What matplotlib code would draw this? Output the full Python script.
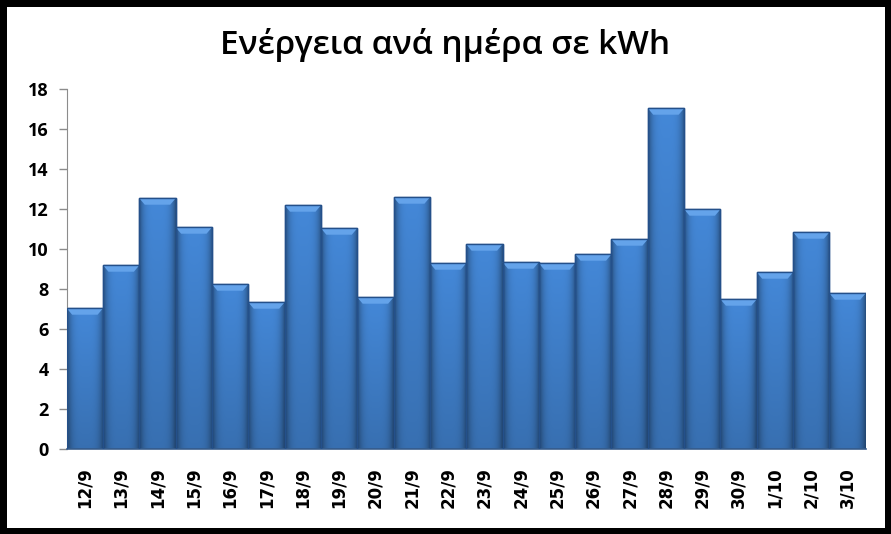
import matplotlib
matplotlib.use("Agg")
import matplotlib.pyplot as plt
import numpy as np
from matplotlib.patches import Rectangle, Polygon

days = ["12/9", "13/9", "14/9", "15/9", "16/9", "17/9", "18/9", "19/9", "20/9",
        "21/9", "22/9", "23/9", "24/9", "25/9", "26/9", "27/9", "28/9", "29/9",
        "30/9", "1/10", "2/10", "3/10"]
energy = [7.05, 9.2, 12.55, 11.1, 8.25, 7.35, 12.2, 11.05, 7.6,
          12.6, 9.3, 10.25, 9.35, 9.3, 9.75, 10.5, 17.05, 12.0,
          7.5, 8.85, 10.85, 7.8]
yticks = [0, 2, 4, 6, 8, 10, 12, 14, 16, 18]
title = "Ενέργεια ανά ημέρα σε kWh"

W, H = 891, 534
fig = plt.figure(figsize=(W / 100, H / 100), dpi=100)
fig.patch.set_facecolor("black")
fig.patches.append(Rectangle((7 / W, 1 - 528 / H), (885 - 7) / W, (528 - 7) / H,
                             transform=fig.transFigure, facecolor="white",
                             edgecolor="none", zorder=-5))

ax = fig.add_axes([66.7 / W, 1 - 449.3 / H, (865.7 - 66.7) / W, (449.3 - 89.3) / H])
ax.set_zorder(2)
ax.set_facecolor("none")
x = np.arange(len(days))
bars = ax.bar(x, energy, width=1.0, color="#3a78c4", edgecolor="#24508a",
              linewidth=1.0, zorder=2)

# gradient fill (bevel look)
nx, ny = 40, 60
gx = np.linspace(-1, 1, nx)
hor = 1 - 0.4 * np.abs(gx) ** 4
ver = np.linspace(0.82, 1.0, ny)[:, None]
shade = ver * hor[None, :]
base = np.array([0x44, 0x88, 0xd8]) / 255.0
img = np.clip(shade[..., None] * base[None, None, :], 0, 1)
for b, v in zip(bars, energy):
    x0 = b.get_x()
    w = b.get_width()
    im = ax.imshow(img, extent=(x0, x0 + w, 0, v), origin="lower", aspect="auto",
                   zorder=2.5, interpolation="bilinear")
    im.set_clip_path(b)
    bev_h = 0.32
    bev_w = 0.15
    top = Polygon([(x0, v), (x0 + w, v), (x0 + w - bev_w, v - bev_h), (x0 + bev_w, v - bev_h)],
                  closed=True, facecolor="#64a3ea", edgecolor="none", zorder=2.7)
    ax.add_patch(top)
    ax.add_patch(Rectangle((x0, 0), w, v, facecolor="none", edgecolor="#24508a",
                           linewidth=1.0, zorder=2.8))

ax.set_xlim(-0.5, len(days) - 0.5)
ax.set_ylim(0, 18)
ax.set_yticks(yticks)
ax.set_yticklabels([str(t) for t in yticks], fontsize=13, fontweight="bold",
                   family="Open Sans")
ax.set_xticks(x)
ax.set_xticklabels(days, rotation=90, fontsize=12, fontweight="bold",
                   family="DejaVu Sans")
ax.tick_params(axis="y", length=6, color="#8c8c8c", width=1, pad=7)
ax.tick_params(axis="x", length=0, pad=13)
for s in ["top", "right"]:
    ax.spines[s].set_visible(False)
ax.spines["left"].set_color("#8c8c8c")
ax.spines["bottom"].set_color("#3b5f8c")
ax.spines["bottom"].set_linewidth(1.2)

fig.text(445 / W, 1 - 45 / H, title, ha="center", va="center", fontsize=24,
         family="Open Sans", fontweight="semibold", color="black")

fig.savefig("out.png", dpi=100, facecolor=fig.get_facecolor())
